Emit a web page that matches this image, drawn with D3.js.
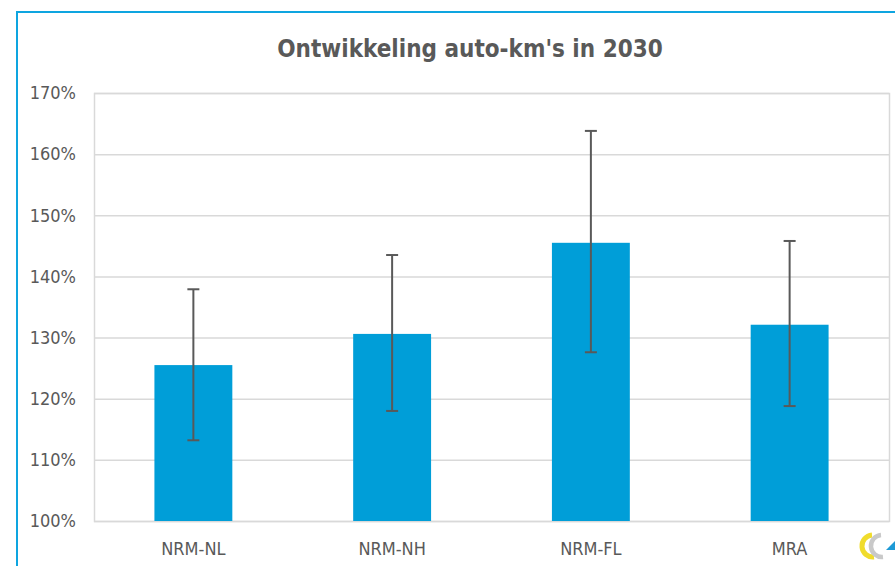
<!DOCTYPE html>
<html><head><meta charset="utf-8">
<script src="https://cdn.jsdelivr.net/npm/d3@7"></script>
<style>body{margin:0;background:#fff;}svg{display:block;}</style>
</head><body>
<svg id="c" width="895" height="566"></svg>
<script>
const categories = ["NRM-NL", "NRM-NH", "NRM-FL", "MRA"];
const values = [125.5, 130.6, 145.5, 132.1];
const errLow = [113.2, 118.0, 127.6, 118.8];
const errHigh = [137.9, 143.5, 163.8, 145.8];
const yTicks = [100, 110, 120, 130, 140, 150, 160, 170];
const title = "Ontwikkeling auto-km's in 2030";

const svg = d3.select("#c");
const W = 895, H = 566;
const m = {left: 94, right: 889, top: 93, bottom: 521};
const txt = "#595959";
const font = "'DejaVu Sans Condensed', 'DejaVu Sans', sans-serif";

// outer frame (blue)
svg.append("path").attr("d", `M17,${H+5}V12H${W+5}`).attr("fill","none")
  .attr("stroke","#0ea5e0").attr("stroke-width",2);

const x = d3.scaleBand().domain(categories).range([m.left, m.right]).paddingInner(0.608).paddingOuter(0.304);
const y = d3.scaleLinear().domain([100,170]).range([m.bottom, m.top]);

// gridlines
svg.append("g").selectAll("line").data(yTicks).join("line")
  .attr("x1", m.left).attr("x2", m.right)
  .attr("y1", d => y(d)+0.5).attr("y2", d => y(d)+0.5)
  .attr("stroke", "#d9d9d9").attr("stroke-width", 1.5);
// plot box
svg.append("rect").attr("x", m.left+0.5).attr("y", m.top+0.5)
  .attr("width", m.right-m.left).attr("height", m.bottom-m.top)
  .attr("fill","none").attr("stroke","#d9d9d9").attr("stroke-width",1.5);

// y axis labels
const yAxis = d3.axisLeft(y).tickValues(yTicks).tickSize(0).tickPadding(18).tickFormat(d => d + "%");
const ga = svg.append("g").attr("transform", `translate(${m.left},0)`).call(yAxis);
ga.select(".domain").remove();
ga.selectAll("text").attr("fill", txt).attr("font-size", 18).attr("font-family", font);

// x axis labels
const xAxis = d3.axisBottom(x).tickSize(0).tickPadding(21);
const gx = svg.append("g").attr("transform", `translate(0,${m.bottom})`).call(xAxis);
gx.select(".domain").remove();
gx.selectAll("text").attr("fill", txt).attr("font-size", 18).attr("font-family", font);

// bars
svg.append("g").selectAll("rect").data(categories).join("rect")
  .attr("x", d => x(d)).attr("width", x.bandwidth())
  .attr("y", (d,i) => y(values[i])).attr("height", (d,i) => y(100) - y(values[i]))
  .attr("fill", "#009ed8");

// error bars
const eb = svg.append("g").attr("stroke", "#595959").attr("stroke-width", 2);
categories.forEach((c,i) => {
  const cx = x(c) + x.bandwidth()/2;
  eb.append("line").attr("x1",cx).attr("x2",cx).attr("y1",y(errHigh[i])).attr("y2",y(errLow[i]));
  eb.append("line").attr("x1",cx-6).attr("x2",cx+6).attr("y1",y(errHigh[i])).attr("y2",y(errHigh[i]));
  eb.append("line").attr("x1",cx-6).attr("x2",cx+6).attr("y1",y(errLow[i])).attr("y2",y(errLow[i]));
});

// title
svg.append("text").attr("x", 470).attr("y", 57).attr("text-anchor","middle")
  .attr("fill", txt).attr("font-size", 24).attr("font-weight","bold").attr("font-family", font)
  .text(title);

// logo (decorative)
const lg = svg.append("g");
const arc = (cx, r) => {
  const a0 = -50 * Math.PI/180, a1 = 230 * Math.PI/180;
  return d3.path ? (() => { const p = d3.path(); p.arc(cx, 546, r, -a0 - Math.PI/2 + Math.PI, -a1 - Math.PI/2 + Math.PI + 2*Math.PI, false); return p.toString(); })() : "";
};
lg.append("path").attr("d", "M872,535 A11,11 0 1 0 874,557").attr("fill","none").attr("stroke","#f0dc2c").attr("stroke-width",5);
lg.append("path").attr("d", "M881,535 A11,11 0 1 0 883,557").attr("fill","none").attr("stroke","#c9c9c9").attr("stroke-width",4.5);
lg.append("path").attr("d", "M886,550 L895,541 L895,550 Z").attr("fill","#1e9ad6");
</script>
</body></html>
